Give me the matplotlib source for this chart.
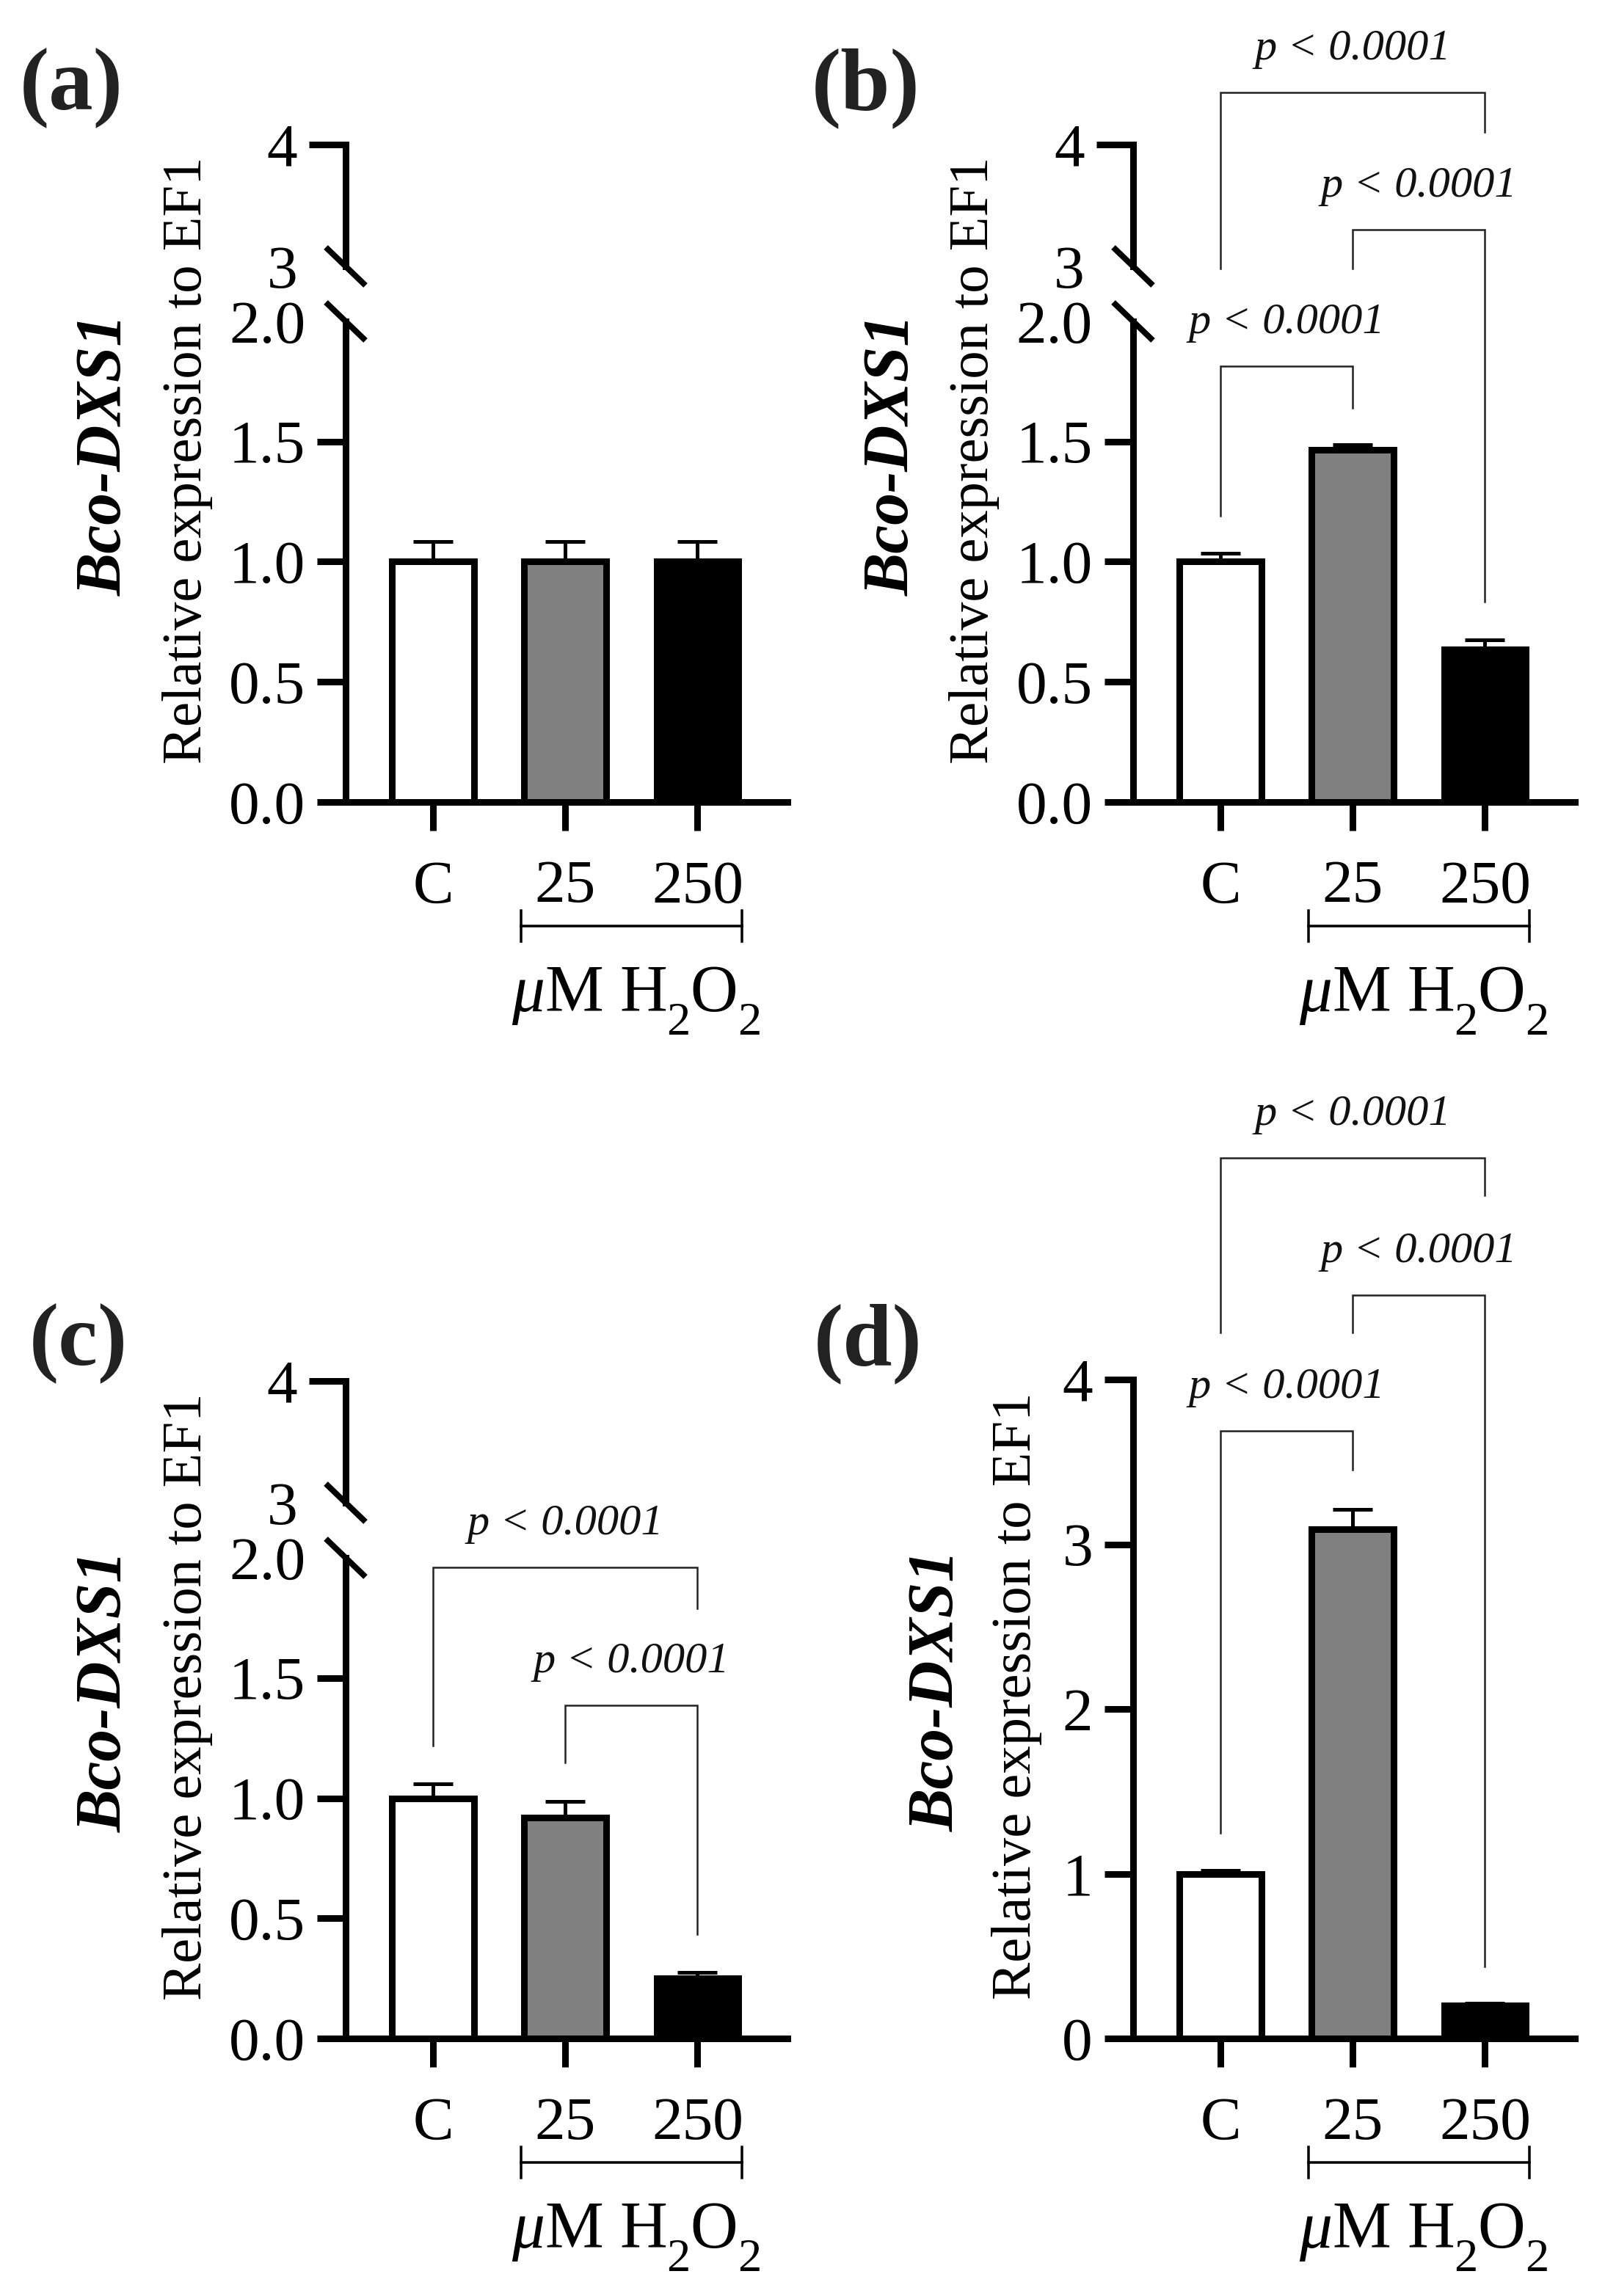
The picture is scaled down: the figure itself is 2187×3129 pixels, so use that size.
import matplotlib
matplotlib.use("Agg")
import matplotlib.pyplot as plt
from matplotlib import transforms
from matplotlib.lines import Line2D

plt.rcParams['font.family'] = ['Liberation Serif', 'DejaVu Serif']
plt.rcParams['mathtext.fontset'] = 'custom'
plt.rcParams['mathtext.rm'] = 'Liberation Serif'
plt.rcParams['mathtext.it'] = 'Liberation Serif:italic'
plt.rcParams['mathtext.bf'] = 'Liberation Serif:bold'

# data
groups = ['C', '25', '250']
bar_colors = ['white', '#808080', 'black']

expr_a = [1.0, 1.0, 1.0]
err_a = [0.085, 0.085, 0.085]
expr_b = [1.0, 1.465, 0.634]
err_b = [0.034, 0.022, 0.042]
expr_c = [1.0, 0.92, 0.251]
err_c = [0.061, 0.066, 0.025]
expr_d = [1.0, 3.09, 0.20]
err_d = [0.02, 0.12, 0.012]

p_label = 'p < 0.0001'
# comparisons: (i, j, bracket level, left leg end, right leg end)  in axis units
sig_b = [(0, 1, 1.814, 1.19, 1.64), (1, 2, 2.382, 2.22, 0.833), (0, 2, 2.953, 2.22, 2.788)]
sig_c = [(1, 2, 1.385, 1.147, 0.435), (0, 2, 1.96, 1.217, 1.79)]
sig_d = [(0, 1, 3.686, 1.248, 3.452), (1, 2, 4.514, 4.286, 0.438), (0, 2, 5.343, 4.286, 5.119)]

W, H = 2187, 3129
DPI = 300
fig = plt.figure(figsize=(W / DPI, H / DPI), dpi=DPI)
renderer = fig.canvas.get_renderer()


def px(v):
    # pixels -> points
    return v * 72 / DPI


def add_ax(left, top, right, bottom):
    return fig.add_axes([left / W, 1 - bottom / H, (right - left) / W, (bottom - top) / H])


def brk(xc, yc):
    fig.add_artist(Line2D([(xc - 27) / W, (xc + 27) / W], [1 - (yc - 26) / H, 1 - (yc + 26) / H],
                          transform=fig.transFigure, color='black', lw=px(8), solid_capstyle='butt'))


def chem_text(x_px, y_px, fs):
    # "uM H2O2" with real lowered subscripts, centred on x_px, baseline at y_px (from top)
    parts = [(r'$\mu$M H', fs, 0), ('2', fs * 0.72, 32), ('O', fs, 0), ('2', fs * 0.72, 32)]
    arts = []
    for s, size, drop in parts:
        t = fig.text(0, 0, s, fontsize=size, ha='left', va='baseline')
        arts.append((t, drop, t.get_window_extent(renderer).width))
    x = x_px - sum(a[2] for a in arts) / 2
    for t, drop, w in arts:
        t.set_position((x / W, 1 - (y_px + drop) / H))
        x += w


def style(ax, tick_len):
    for s in ['top', 'right']:
        ax.spines[s].set_visible(False)
    for s in ['left', 'bottom']:
        ax.spines[s].set_linewidth(px(9))
        ax.spines[s].set_capstyle('projecting')
    ax.tick_params(axis='both', direction='out', length=px(tick_len), width=px(9),
                   labelsize=20, pad=px(16))
    ax.tick_params(axis='x', pad=px(40))
    ax.set_xlim(-0.66, 2.68)


def panel(x0, y0, vals, errs, letter, letter_xy, broken, sig, lab_off):
    right = x0 + 602
    if broken:
        lo = add_ax(x0, y0 - 655, right, y0)
        style(lo, 39)
        lo.set_ylim(0, 2)
        lo.set_yticks([0, 0.5, 1.0, 1.5, 2.0])
        lo.set_yticklabels(['0.0', '0.5', '1.0', '1.5', '2.0'])
        lo.yaxis.get_major_ticks()[-1].tick1line.set_visible(False)

        up = add_ax(x0, y0 - 896, right, y0 - 730)
        style(up, 50)
        up.spines['bottom'].set_visible(False)
        up.set_ylim(3, 4)
        up.set_yticks([3, 4])
        up.set_yticklabels(['3', '4'])
        up.yaxis.get_major_ticks()[0].tick1line.set_visible(False)
        up.set_xticks([])
        up.patch.set_visible(False)
        brk(x0, y0 - 730)
        brk(x0, y0 - 655)
    else:
        lo = add_ax(x0, y0 - 898, right, y0)
        style(lo, 39)
        lo.set_ylim(0, 4)
        lo.set_yticks([0, 1, 2, 3, 4])
        lo.set_yticklabels(['0', '1', '2', '3', '4'])
    lo.patch.set_visible(False)

    xs = range(len(groups))
    lo.bar(xs, vals, width=0.62, color=bar_colors, edgecolor='black', linewidth=px(9), zorder=3)
    lo.errorbar(xs, vals, yerr=[[0] * len(vals), errs], fmt='none', ecolor='black',
                elinewidth=px(5), capsize=px(27), capthick=px(5), zorder=2)
    lo.set_xticks(list(xs))
    lo.set_xticklabels(groups)

    # treatment group bracket under 25 / 250
    tr = transforms.blended_transform_factory(lo.transData, fig.transFigure)
    yb = 1 - (y0 + 169) / H
    cap = 21 / H
    xa, xb = 1 - 0.335, 2 + 0.335
    lo.plot([xa, xb], [yb, yb], transform=tr, color='black', lw=px(3.5), clip_on=False)
    lo.plot([xa, xa], [yb - cap, yb + cap], transform=tr, color='black', lw=px(3.5), clip_on=False)
    lo.plot([xb, xb], [yb - cap, yb + cap], transform=tr, color='black', lw=px(3.5), clip_on=False)
    xc_px = lo.transData.transform((1.54, 0))[0]
    chem_text(xc_px, y0 + 285, 21.5)

    # significance brackets
    toff = transforms.offset_copy(lo.transData, fig=fig, y=45, units='dots')
    for i, j, lvl, le, re in sig:
        lo.plot([i, i, j, j], [le, lvl, lvl, re], color='#222222', lw=px(2.5),
                clip_on=False, solid_joinstyle='miter')
        lo.text((i + j) / 2, lvl, p_label, transform=toff, ha='center', va='baseline',
                fontstyle='italic', fontsize=14.5, color='#111111')

    # axis titles
    yc = y0 - 448 if broken else y0 - 449
    fig.text((x0 + lab_off[0]) / W, 1 - (yc - 18) / H, 'Relative expression to EF1',
             rotation=90, ha='center', va='center', fontsize=18.4)
    fig.text((x0 + lab_off[1]) / W, 1 - (yc - 25) / H, 'Bco-DXS1', rotation=90,
             ha='center', va='center', fontsize=21, fontweight='bold', fontstyle='italic')
    fig.text(letter_xy[0] / W, 1 - letter_xy[1] / H, letter, ha='center', va='center',
             fontsize=29, fontweight='bold', color='#222222')


panel(471, 1093, expr_a, err_a, '(a)', (97, 120), True, [], (-216, -328))
panel(1544, 1093, expr_b, err_b, '(b)', (1180, 120), True, sig_b, (-216, -328))
panel(471, 2778, expr_c, err_c, '(c)', (107, 1831), True, sig_c, (-216, -328))
panel(1544, 2778, expr_d, err_d, '(d)', (1183, 1831), False, sig_d, (-158, -267))

fig.savefig('out.png', dpi=DPI)
